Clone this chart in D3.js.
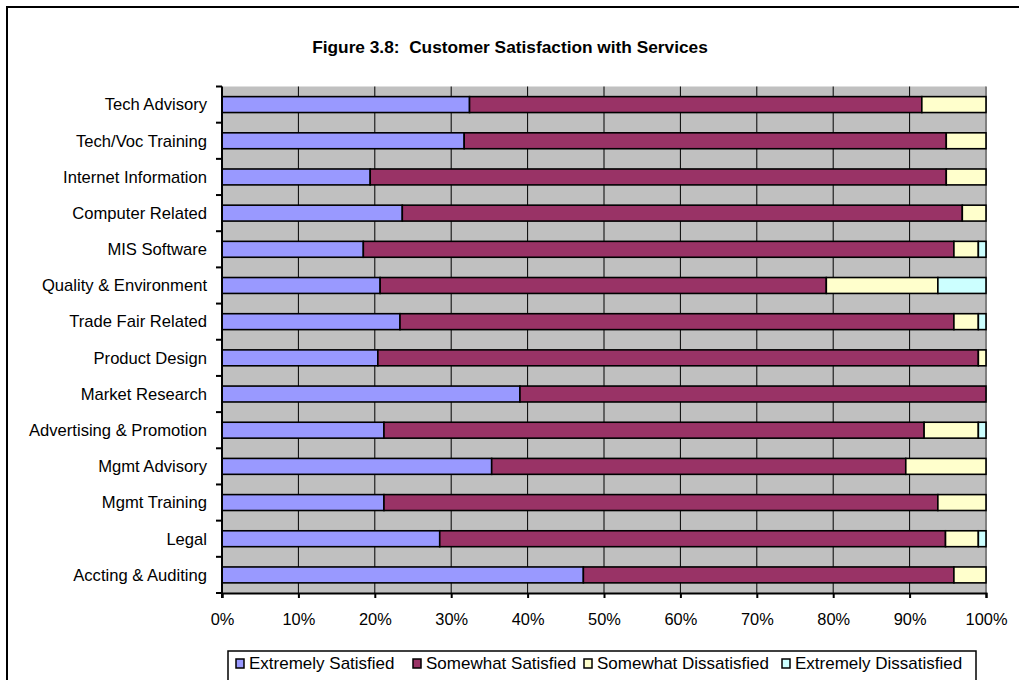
<!DOCTYPE html>
<html>
<head>
<meta charset="utf-8">
<script src="https://cdn.jsdelivr.net/npm/d3@7"></script>
<style>
  html, body { margin: 0; padding: 0; background: #fff; }
  svg { display: block; font-family: Arial, "Liberation Sans", sans-serif; }
</style>
</head>
<body>
<svg id="chart" width="1019" height="680"></svg>
<script>
// Services, listed top to bottom
const categories = [
  "Tech Advisory", "Tech/Voc Training", "Internet Information", "Computer Related",
  "MIS Software", "Quality & Environment", "Trade Fair Related", "Product Design",
  "Market Research", "Advertising & Promotion", "Mgmt Advisory", "Mgmt Training",
  "Legal", "Accting & Auditing"
];

// Share of respondents (%) in each satisfaction level
const extremelySatisfied    = [32.4, 31.7, 19.4, 23.6, 18.5, 20.7, 23.3, 20.4, 39.0, 21.2, 35.3, 21.2, 28.5, 47.3];
const somewhatSatisfied     = [59.2, 63.1, 75.4, 73.3, 77.3, 58.4, 72.5, 78.6, 61.0, 70.7, 54.2, 72.5, 66.2, 48.5];
const somewhatDissatisfied  = [ 8.4,  5.2,  5.2,  3.1,  3.2, 14.6,  3.2,  1.0,  0.0,  7.1, 10.5,  6.3,  4.3,  4.2];
const extremelyDissatisfied = [ 0.0,  0.0,  0.0,  0.0,  1.0,  6.3,  1.0,  0.0,  0.0,  1.0,  0.0,  0.0,  1.0,  0.0];

const seriesNames = ["Extremely Satisfied", "Somewhat Satisfied", "Somewhat Dissatisfied", "Extremely Dissatisfied"];
const seriesColors = ["#9999FF", "#993366", "#FFFFCC", "#CCFFFF"];
const xTicks = [0, 10, 20, 30, 40, 50, 60, 70, 80, 90, 100];

const svg = d3.select("#chart");

// Rows for d3.stack
const rows = categories.map((c, i) => ({
  category: c,
  [seriesNames[0]]: extremelySatisfied[i],
  [seriesNames[1]]: somewhatSatisfied[i],
  [seriesNames[2]]: somewhatDissatisfied[i],
  [seriesNames[3]]: extremelyDissatisfied[i]
}));
const stacked = d3.stack().keys(seriesNames)(rows);

const plot = { left: 222, right: 986, top: 86.5, bottom: 593 };

const x = d3.scaleLinear().domain([0, 100]).range([plot.left, plot.right]);
const y = d3.scaleBand().domain(categories)
  .range([plot.top, plot.bottom])
  .paddingInner(0.56).paddingOuter(0.28);

// Outer frame
svg.append("rect")
  .attr("x", 7).attr("y", 7).attr("width", 1030).attr("height", 700)
  .attr("fill", "none").attr("stroke", "#000").attr("stroke-width", 2);

// Title
svg.append("text")
  .attr("x", 510).attr("y", 53)
  .attr("text-anchor", "middle")
  .attr("font-weight", "bold").attr("font-size", 17.3)
  .attr("xml:space", "preserve")
  .text("Figure 3.8:  Customer Satisfaction with Services");

// Plot background
svg.append("rect")
  .attr("x", plot.left).attr("y", plot.top)
  .attr("width", plot.right - plot.left).attr("height", plot.bottom - plot.top)
  .attr("fill", "#C0C0C0");
svg.append("line")
  .attr("x1", plot.right).attr("x2", plot.right)
  .attr("y1", plot.top).attr("y2", plot.bottom)
  .attr("stroke", "#808080").attr("stroke-width", 2);

// Vertical gridlines
svg.append("g").selectAll("line")
  .data(xTicks.filter(t => t > 0 && t < 100))
  .join("line")
  .attr("x1", d => x(d)).attr("x2", d => x(d))
  .attr("y1", plot.top).attr("y2", plot.bottom)
  .attr("stroke", "#000").attr("stroke-width", 1);

// Stacked bars
svg.append("g").selectAll("g")
  .data(stacked)
  .join("g")
  .attr("fill", (d, i) => seriesColors[i])
  .selectAll("rect")
  .data(d => d.filter(p => p[1] - p[0] > 0))
  .join("rect")
  .attr("x", d => x(d[0]))
  .attr("y", d => y(d.data.category))
  .attr("width", d => x(d[1]) - x(d[0]))
  .attr("height", y.bandwidth())
  .attr("stroke", "#000").attr("stroke-width", 1.6);

// Category axis with ticks at band boundaries
const yAxis = svg.append("g");
yAxis.append("line")
  .attr("x1", plot.left).attr("x2", plot.left)
  .attr("y1", plot.top).attr("y2", plot.bottom + 5)
  .attr("stroke", "#000").attr("stroke-width", 2);
yAxis.selectAll("line.tick")
  .data(d3.range(categories.length + 1))
  .join("line").attr("class", "tick")
  .attr("x1", plot.left - 6).attr("x2", plot.left)
  .attr("y1", i => plot.top + i * y.step()).attr("y2", i => plot.top + i * y.step())
  .attr("stroke", "#000").attr("stroke-width", 2);
yAxis.selectAll("text")
  .data(categories)
  .join("text")
  .attr("x", 207)
  .attr("y", d => y(d) + y.bandwidth() / 2)
  .attr("dy", "0.35em")
  .attr("text-anchor", "end")
  .attr("font-size", 16.6)
  .text(d => d);

// Percentage axis
const xAxis = svg.append("g")
  .attr("transform", `translate(0,${plot.bottom})`)
  .call(d3.axisBottom(x).tickValues(xTicks).tickSize(5).tickPadding(15)
    .tickFormat(d => d + "%"));
xAxis.select(".domain").attr("stroke", "#000").attr("stroke-width", 2);
xAxis.selectAll(".tick line").attr("stroke", "#000").attr("stroke-width", 2);
xAxis.selectAll(".tick text").attr("font-size", 16.4).attr("font-family", "Arial, 'Liberation Sans', sans-serif").attr("fill", "#000");

// Legend
const legend = svg.append("g");
legend.append("rect")
  .attr("x", 228).attr("y", 651).attr("width", 748).attr("height", 40)
  .attr("fill", "#fff").attr("stroke", "#000").attr("stroke-width", 1.5);
const legendX = [236, 413, 584, 782];
const items = legend.selectAll("g.item")
  .data(seriesNames)
  .join("g").attr("class", "item")
  .attr("transform", (d, i) => `translate(${legendX[i]},663)`);
items.append("rect")
  .attr("x", 0).attr("y", -4).attr("width", 8).attr("height", 9)
  .attr("fill", (d, i) => seriesColors[i])
  .attr("stroke", "#000").attr("stroke-width", 1.5);
items.append("text")
  .attr("x", 13).attr("dy", "0.35em")
  .attr("font-size", 17)
  .text(d => d);
</script>
</body>
</html>
